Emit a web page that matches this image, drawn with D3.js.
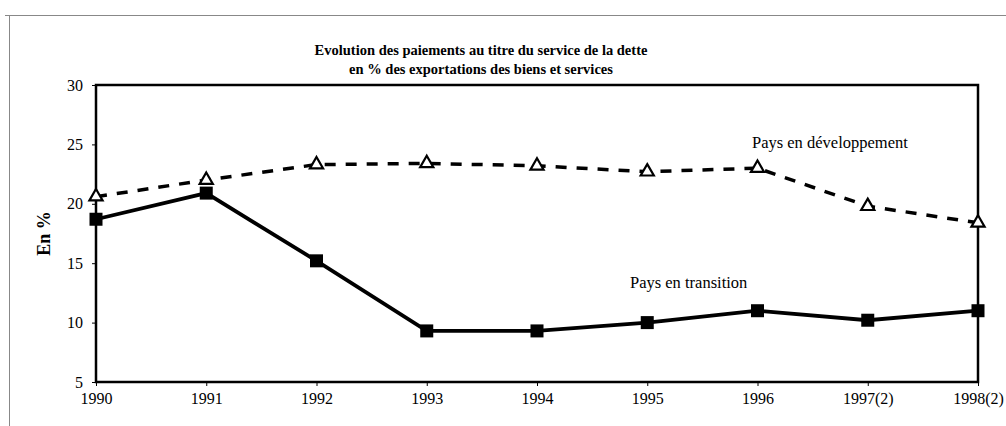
<!DOCTYPE html>
<html>
<head>
<meta charset="utf-8">
<script src="https://cdn.jsdelivr.net/npm/d3@7"></script>
<style>
  body { margin: 0; background: #fff; }
  svg { display: block; }
</style>
</head>
<body>
<div id="chart"></div>
<script>
// données
const years = ["1990", "1991", "1992", "1993", "1994", "1995", "1996", "1997(2)", "1998(2)"];
const developpement = [20.6, 22.0, 23.3, 23.4, 23.2, 22.7, 23.0, 19.8, 18.4];
const transition = [18.7, 20.9, 15.2, 9.3, 9.3, 10.0, 11.0, 10.2, 11.0];
const yTicks = [5, 10, 15, 20, 25, 30];
const titleLines = ["Evolution des paiements au titre du service de la dette",
                    "en % des exportations des biens et services"];

const width = 1006, height = 426;
const margin = {left: 96, right: 28, top: 85, bottom: 44};
const font = "'Liberation Serif', 'Times New Roman', serif";

const svg = d3.select("#chart")
  .append("svg")
  .attr("width", width)
  .attr("height", height)
  .style("font-family", font);

// cadre extérieur
svg.append("line").attr("x1", 5).attr("x2", width).attr("y1", 15.5).attr("y2", 15.5)
  .attr("stroke", "#888").attr("stroke-width", 1);
svg.append("line").attr("x1", 9.5).attr("x2", 9.5).attr("y1", 15).attr("y2", height)
  .attr("stroke", "#888").attr("stroke-width", 1);

const x = d3.scalePoint()
  .domain(years)
  .range([margin.left, width - margin.right]);

const y = d3.scaleLinear()
  .domain([5, 30])
  .range([height - margin.bottom, margin.top]);

// titre
svg.append("g").selectAll("text")
  .data(titleLines)
  .enter()
  .append("text")
  .attr("x", 481)
  .attr("y", (d, i) => 55 + i * 19)
  .attr("text-anchor", "middle")
  .attr("font-size", "14.5px")
  .attr("font-weight", "bold")
  .text(d => d);

// axes
const xAxis = svg.append("g")
  .attr("transform", `translate(0,${y(5)})`)
  .call(d3.axisBottom(x).tickSize(4).tickSizeOuter(0).tickPadding(7));

const yAxis = svg.append("g")
  .attr("transform", `translate(${margin.left},0)`)
  .call(d3.axisLeft(y).tickValues(yTicks).tickSize(4).tickSizeOuter(0).tickPadding(9));

[xAxis, yAxis].forEach(a => {
  a.select(".domain").remove();
  a.selectAll("line").attr("stroke", "#000");
  a.selectAll("text")
    .attr("font-family", font)
    .attr("font-size", "16px")
    .attr("fill", "#000");
});

// cadre du graphique
svg.append("rect")
  .attr("x", x(years[0]))
  .attr("y", y(30))
  .attr("width", x(years[years.length - 1]) - x(years[0]))
  .attr("height", y(5) - y(30))
  .attr("fill", "none")
  .attr("stroke", "#000")
  .attr("stroke-width", 2.5);

// titre de l'axe
svg.append("text")
  .attr("transform", `translate(50,${(y(5) + y(30)) / 2}) rotate(-90)`)
  .attr("text-anchor", "middle")
  .attr("font-size", "18px")
  .attr("font-weight", "bold")
  .text("En %");

const line = d3.line()
  .x((d, i) => x(years[i]))
  .y(d => y(d));

svg.append("path")
  .datum(developpement)
  .attr("d", line)
  .attr("fill", "none")
  .attr("stroke", "#000")
  .attr("stroke-width", 3.5)
  .attr("stroke-dasharray", "11,10");

svg.append("path")
  .datum(transition)
  .attr("d", line)
  .attr("fill", "none")
  .attr("stroke", "#000")
  .attr("stroke-width", 3.8);

// marqueurs
svg.append("g").selectAll("path")
  .data(developpement)
  .enter()
  .append("path")
  .attr("d", d3.symbol().type(d3.symbolTriangle).size(75))
  .attr("transform", (d, i) => `translate(${x(years[i])},${y(d)})`)
  .attr("fill", "#fff")
  .attr("stroke", "#000")
  .attr("stroke-width", 2.2);

svg.append("g").selectAll("rect")
  .data(transition)
  .enter()
  .append("rect")
  .attr("x", (d, i) => x(years[i]) - 6.5)
  .attr("y", d => y(d) - 6.5)
  .attr("width", 13)
  .attr("height", 13)
  .attr("fill", "#000");

// étiquettes des séries
svg.append("text")
  .attr("x", 752)
  .attr("y", 148)
  .attr("font-size", "16.5px")
  .text("Pays en développement");

svg.append("text")
  .attr("x", 630)
  .attr("y", 288)
  .attr("font-size", "16.5px")
  .text("Pays en transition");
</script>
</body>
</html>
